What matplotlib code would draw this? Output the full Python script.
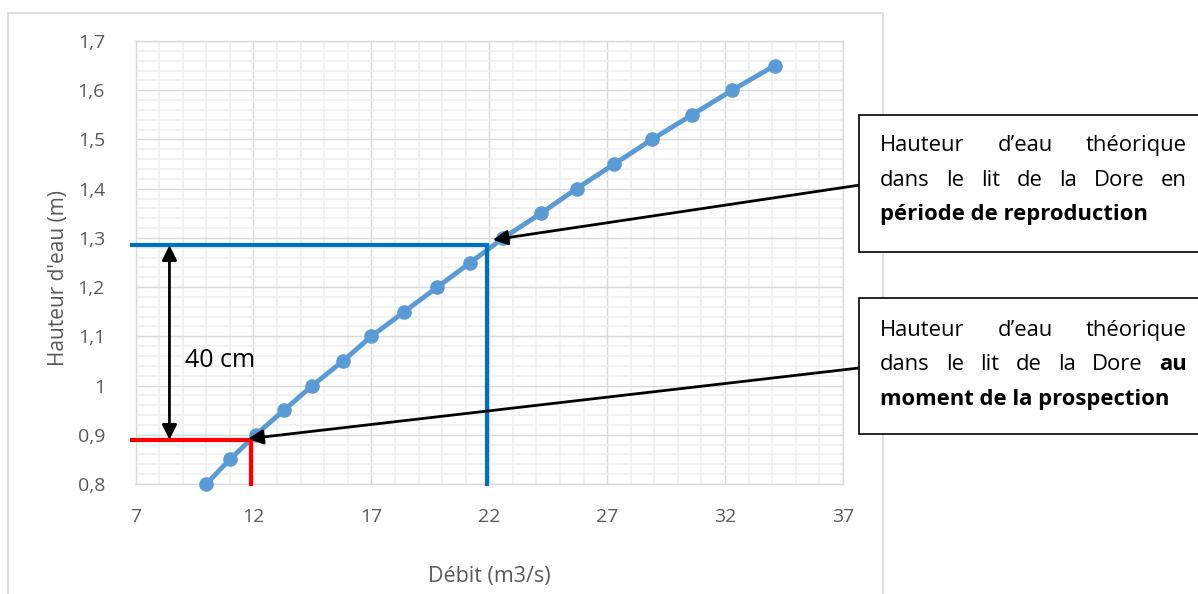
import matplotlib
matplotlib.use("Agg")
import matplotlib.pyplot as plt
from matplotlib.patches import Rectangle
from matplotlib.ticker import MultipleLocator, FuncFormatter

# rating curve : debit (m3/s) -> hauteur d'eau (m)
debit = [10.0, 11.0, 12.1, 13.3, 14.5, 15.8, 17.0, 18.4, 19.8, 21.2,
         22.6, 24.2, 25.7, 27.3, 28.9, 30.6, 32.3, 34.1]
hauteur = [0.80, 0.85, 0.90, 0.95, 1.00, 1.05, 1.10, 1.15, 1.20, 1.25,
           1.30, 1.35, 1.40, 1.45, 1.50, 1.55, 1.60, 1.65]

x_ticks = [7, 12, 17, 22, 27, 32, 37]
y_ticks = [0.8, 0.9, 1.0, 1.1, 1.2, 1.3, 1.4, 1.5, 1.6, 1.7]

# reperes : periode de reproduction / prospection
q_repro, h_repro = 21.9, 1.285
q_prosp, h_prosp = 11.9, 0.89
ecart_label = "40 cm"

box_top = [["Hauteur", "d’eau", "théorique"],
           ["dans", "le", "lit", "de", "la", "Dore", "en"],
           "période de reproduction"]
box_bot = [["Hauteur", "d’eau", "théorique"],
           ["dans", "le", "lit", "de", "la", "Dore", "au"],
           "moment de la prospection"]

W, H = 1198, 594
plt.rcParams['font.family'] = ['Open Sans', 'DejaVu Sans']
fig = plt.figure(figsize=(W / 100, H / 100), dpi=100)
fig.patch.set_facecolor('white')

def fx(px):
    return px / W

def fy(py):
    return (H - py) / H

# outer chart frame
fig.patches.append(Rectangle((fx(8), fy(640)), fx(883) - fx(8), fy(13) - fy(640),
                             transform=fig.transFigure, fill=False,
                             edgecolor='#d9d9d9', lw=1.2, zorder=0))

ax = fig.add_axes([fx(135.5), fy(484), fx(843) - fx(135.5), fy(41) - fy(484)])
ax.set_xlim(7, 37)
ax.set_ylim(0.8, 1.7)
ax.set_xticks(x_ticks)
ax.set_yticks(y_ticks)
ax.xaxis.set_minor_locator(MultipleLocator(1))
ax.yaxis.set_minor_locator(MultipleLocator(0.02))
ax.yaxis.set_major_formatter(FuncFormatter(lambda v, p: ('%g' % round(v, 2)).replace('.', ',')))
ax.grid(which='minor', color='#f0f0f0', lw=1.3, zorder=0)
ax.grid(which='major', color='#d9d9d9', lw=1.0, zorder=0)
ax.set_axisbelow(True)
for s in ax.spines.values():
    s.set_color('#d9d9d9')
    s.set_linewidth(1.0)
ax.tick_params(which='both', length=0, labelsize=14, labelcolor='#595959')
ax.tick_params(axis='x', pad=17)
ax.tick_params(axis='y', pad=22)

ax.set_xlabel('Débit (m3/s)', fontsize=15.5, color='#595959')
ax.set_ylabel("Hauteur d'eau (m)", fontsize=15, color='#595959')
ax.xaxis.set_label_coords(0.5, -0.185)
ax.yaxis.set_label_coords(-0.094, 0.465)

ax.plot(debit, hauteur, color='#5b9bd5', lw=3.5, marker='o', ms=9.5,
        zorder=4, clip_on=False)

# reference lines
ax.plot([6.85, q_repro, q_repro], [h_repro, h_repro, 0.8], color='#0070c0',
        lw=3, zorder=5, clip_on=False, solid_joinstyle='miter')
ax.plot([6.85, q_prosp, q_prosp], [h_prosp, h_prosp, 0.8], color='#ff0000',
        lw=3, zorder=5, clip_on=False, solid_joinstyle='miter')

# double arrow 40 cm
ax.annotate('', xy=(8.44, h_repro), xytext=(8.44, h_prosp),
            arrowprops=dict(arrowstyle='<|-|>', color='black', lw=2,
                            mutation_scale=22, shrinkA=0, shrinkB=0), zorder=6)
ax.text(9.1, 1.05, ecart_label, fontsize=18, va='center', ha='left', color='black')

# callout arrows
ax.annotate('', xy=(22.15, 1.296), xycoords='data',
            xytext=(fx(860), fy(185)), textcoords='figure fraction',
            arrowprops=dict(arrowstyle='-|>', color='black', lw=2,
                            mutation_scale=22, shrinkA=0, shrinkB=0), zorder=7,
            annotation_clip=False)
ax.annotate('', xy=(11.78, 0.892), xycoords='data',
            xytext=(fx(859), fy(368)), textcoords='figure fraction',
            arrowprops=dict(arrowstyle='-|>', color='black', lw=2,
                            mutation_scale=22, shrinkA=0, shrinkB=0), zorder=7,
            annotation_clip=False)

# callout boxes
for y0, y1 in [(115, 252), (298, 434)]:
    fig.patches.append(Rectangle((fx(859), fy(y1)), fx(1210) - fx(859), fy(y0) - fy(y1),
                                 transform=fig.transFigure, facecolor='white',
                                 edgecolor='black', lw=1.2, zorder=3))

renderer = fig.canvas.get_renderer()
FS = 15.8
x_left, x_right = 880, 1187


def justified(words, y, bold_last=False):
    texts = []
    for i, w in enumerate(words):
        wt = 'bold' if (bold_last and i == len(words) - 1) else 'normal'
        t = fig.text(0, fy(y), w, fontsize=FS, fontweight=wt, va='baseline',
                     ha='left', color='black', zorder=10)
        texts.append(t)
    widths = [t.get_window_extent(renderer).width for t in texts]
    gap = ((x_right - x_left) - sum(widths)) / (len(words) - 1)
    xp = x_left
    for t, wd in zip(texts, widths):
        t.set_x(fx(xp))
        xp += wd + gap


for box, base, bold_au in [(box_top, 151, False), (box_bot, 336, True)]:
    justified(box[0], base)
    justified(box[1], base + 34.5, bold_last=bold_au)
    fig.text(fx(x_left), fy(base + 69), box[2], fontsize=FS, fontweight='bold',
             va='baseline', ha='left', color='black', zorder=10)

fig.savefig('out.png', dpi=100)
